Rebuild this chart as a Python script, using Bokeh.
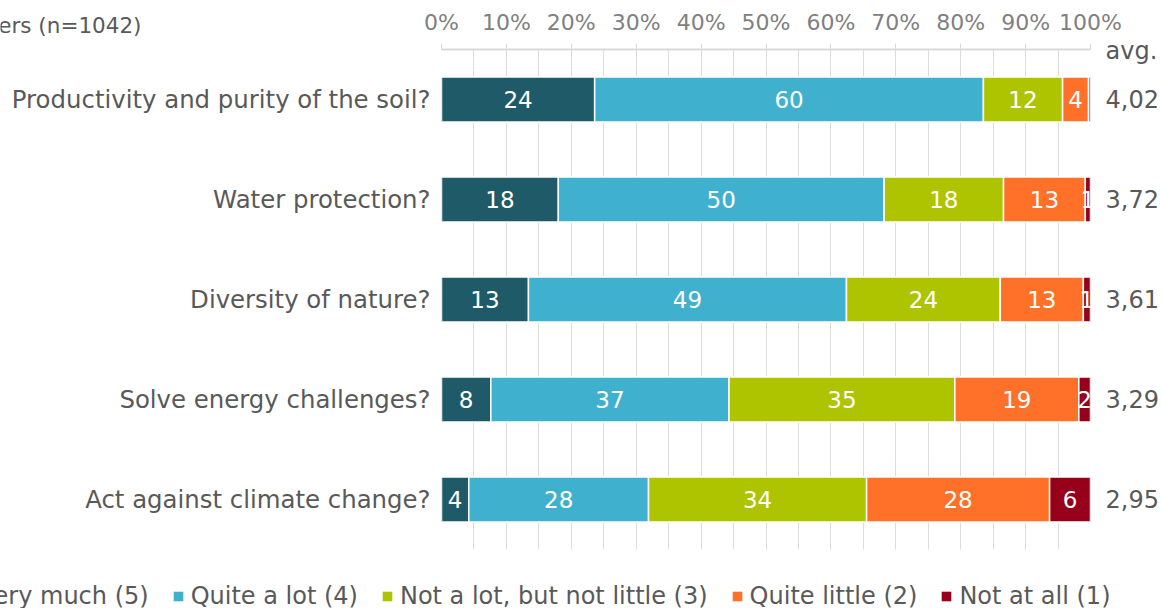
from bokeh.plotting import figure
from bokeh.models import (Range1d, FixedTicker, LinearAxis, Legend, LegendItem,
                          ColumnDataSource)
from bokeh.core.properties import value
from bokeh.embed import file_html
from bokeh.resources import INLINE
import numpy as np

# ---------------- data ----------------
questions = ["Productivity and purity of the soil?", "Water protection?",
             "Diversity of nature?", "Solve energy challenges?",
             "Act against climate change?"]
series_names = ["Very much (5)", "Quite a lot (4)", "Not a lot, but not little (3)",
                "Quite little (2)", "Not at all (1)"]
very_much = [23.6, 18.0, 13.4, 7.6, 4.2]
quite_a_lot = [59.9, 50.2, 49.0, 36.7, 27.7]
not_a_lot = [12.2, 18.4, 23.7, 34.8, 33.6]
quite_little = [4.0, 12.6, 12.8, 19.1, 28.2]
not_at_all = [0.3, 0.8, 1.1, 1.8, 6.3]
averages = ["4,02", "3,72", "3,61", "3,29", "2,95"]
tick_values = [0, 10, 20, 30, 40, 50, 60, 70, 80, 90, 100]
tick_labels = ["0%", "10%", "20%", "30%", "40%", "50%", "60%", "70%", "80%", "90%", "100%"]
grid_values = [0, 5, 10, 15, 20, 25, 30, 35, 40, 45, 50, 55, 60, 65, 70, 75, 80, 85, 90, 95, 100]
title_text = "Farmers (n=1042)"
avg_title = "avg."

colors = ["#1f5a69", "#3fb1ce", "#afc400", "#ff7028", "#96001a"]
FONT = "DejaVu Sans"
n = len(questions)
row_pos = [n - i - 0.5 for i in range(n)]      # top row first
header_pos = n - 0.01

W, H = 1161, 608

# ---------------- main figure ----------------
p = figure(width=W, height=H,
           x_range=Range1d(0, 100), y_range=Range1d(0, n),
           x_axis_location="above",
           output_backend="svg", toolbar_location=None,
           min_border_left=441, min_border_right=71,
           min_border_top=49, min_border_bottom=59)
p.outline_line_color = None
p.background_fill_color = "white"
p.border_fill_color = "white"

ticker = FixedTicker(ticks=tick_values, minor_ticks=grid_values)
xa = p.xaxis[0]
xa.ticker = ticker
xa.major_label_overrides = {v: l for v, l in zip(tick_values, tick_labels)}
xa.axis_line_color = "#d9d9d9"
xa.axis_line_width = 2
xa.major_tick_line_color = "#d9d9d9"
xa.major_tick_line_width = 1
xa.major_tick_out = 6
xa.major_tick_in = 0
xa.minor_tick_line_color = None
xa.minor_tick_out = 0
xa.minor_tick_in = 0
xa.major_label_text_font = FONT
xa.major_label_text_font_size = "22px"
xa.major_label_text_color = "#808080"
xa.major_label_standoff = 9

p.xgrid.ticker = ticker
p.xgrid.grid_line_color = "#dcdcdc"
p.xgrid.minor_grid_line_color = "#dcdcdc"
p.ygrid.grid_line_color = None


def style_cat_axis(ax, size, standoff):
    ax.axis_line_color = None
    ax.major_tick_line_color = None
    ax.minor_tick_line_color = None
    ax.major_tick_out = 0
    ax.major_tick_in = 0
    ax.minor_tick_out = 0
    ax.minor_tick_in = 0
    ax.major_label_text_font = FONT
    ax.major_label_text_font_size = size
    ax.major_label_text_color = "#595959"
    ax.major_label_standoff = standoff


ya = p.yaxis[0]
ya.ticker = FixedTicker(ticks=row_pos, minor_ticks=[])
ya.major_label_overrides = {pos: qq for pos, qq in zip(row_pos, questions)}
style_cat_axis(ya, "24.4px", 11)

ra = LinearAxis(ticker=FixedTicker(ticks=row_pos + [header_pos], minor_ticks=[]))
ra.major_label_overrides = {**{pos: a for pos, a in zip(row_pos, averages)},
                            header_pos: avg_title}
style_cat_axis(ra, "24px", 15)
p.add_layout(ra, "right")

# ---------------- bars ----------------
series = [very_much, quite_a_lot, not_a_lot, quite_little, not_at_all]
cum = np.zeros(n)
for vals, color in zip(series, colors):
    v = np.array(vals, dtype=float)
    left = cum.copy()
    right = cum + v
    labels = [str(int(round(x))) if round(x) > 0 else "" for x in vals]
    src = ColumnDataSource(dict(y=row_pos, left=left, right=right,
                                mid=(left + right) / 2, lab=labels))
    p.hbar(y="y", left="left", right="right", height=0.45, source=src,
           fill_color=color, line_color="white", line_width=1.5)
    p.text(x="mid", y="y", text="lab", source=src, text_color="white",
           text_font=value(FONT), text_font_size="23px",
           text_align="center", text_baseline="middle")
    cum = right

# ---------------- overlay figure: title + legend (outside the bar frame) ----------------
q = figure(width=W, height=H, x_range=Range1d(0, W), y_range=Range1d(H, 0),
           output_backend="svg", toolbar_location=None,
           x_axis_location=None, y_axis_location=None, min_border=0)
q.outline_line_color = None
q.background_fill_color = None
q.border_fill_color = None
q.xgrid.visible = False
q.ygrid.visible = False
q.styles = {"margin-top": f"-{H}px"}

q.text(x=[141], y=[25], text=[title_text], text_align="right",
       text_baseline="alphabetic", text_font=value(FONT),
       text_font_size="21.5px", text_color="#595959")

# zero-size key glyphs, only used to draw the legend swatches
key_renderers = [q.hbar(y=[0], left=[0], right=[0], height=0, fill_color=c,
                        line_color=None)
                 for c in colors]
legend = Legend(items=[LegendItem(label=nm, renderers=[r])
                       for nm, r in zip(series_names, key_renderers)],
                orientation="horizontal", location=(-40, -2),
                glyph_width=12, glyph_height=12, label_standoff=7,
                spacing=23, padding=0, margin=0,
                border_line_color=None, background_fill_alpha=0,
                label_text_font=FONT, label_text_font_size="24px",
                label_text_color="#595959", label_height=24)
q.add_layout(legend)

open("out.html", "w").write(file_html([p, q], INLINE))
